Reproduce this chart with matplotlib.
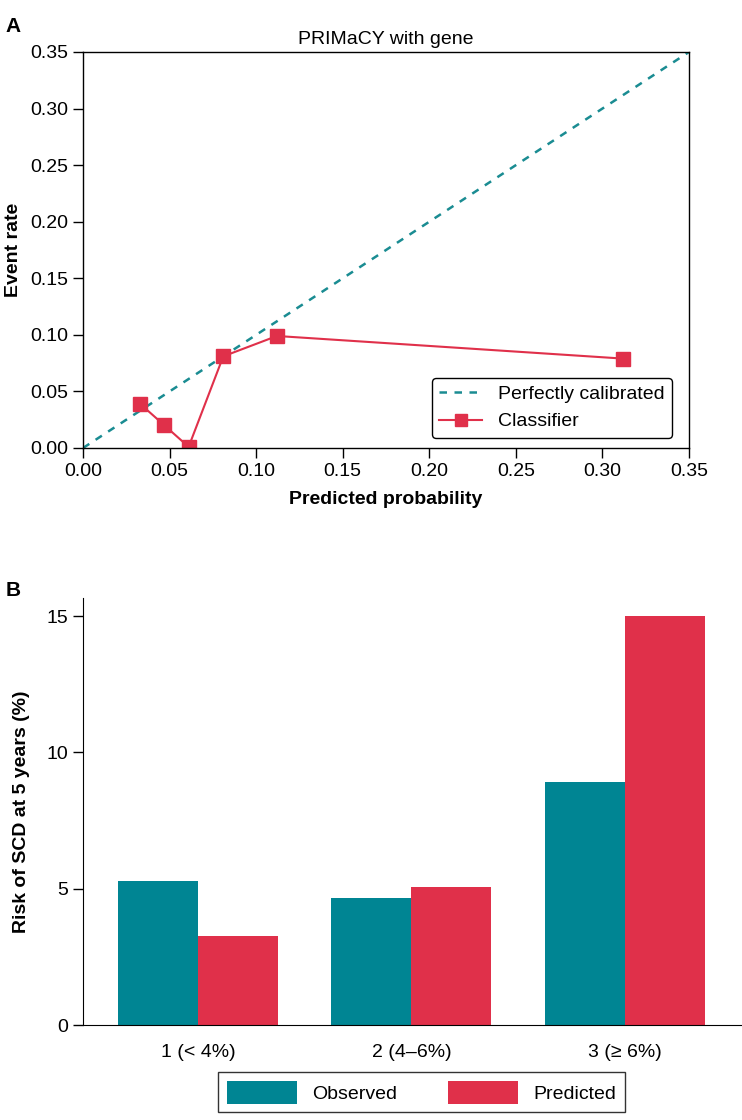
import numpy as np
import matplotlib
matplotlib.use('Agg')
import matplotlib.pyplot as plt

plt.rcParams['font.family'] = ['Liberation Sans', 'DejaVu Sans']

# panel A: calibration curve
pred_prob = [0.033, 0.047, 0.061, 0.081, 0.112, 0.312]
event_rate = [0.039, 0.020, 0.001, 0.081, 0.099, 0.079]
cal_ticks = [0.00, 0.05, 0.10, 0.15, 0.20, 0.25, 0.30, 0.35]

# panel B: risk groups
groups = ['1 (< 4%)', '2 (4\u20136%)', '3 (\u2265 6%)']
observed = [5.3, 4.65, 8.9]
predicted = [3.25, 5.05, 15.0]

TEAL = '#008593'
RED = '#E0304A'
FS = 14

fig = plt.figure(figsize=(7.42, 11.2), dpi=100)

# ---- A
axA = fig.add_axes([0.1119, 0.6, 0.8167, 0.3536])
axA.plot([0, 0.35], [0, 0.35], linestyle=(0, (3, 3)), color='#1a8c92',
         lw=1.8, label='Perfectly calibrated')
axA.plot(pred_prob, event_rate, color=RED, lw=1.5, marker='s',
         markersize=10, label='Classifier')
axA.set_xlim(0, 0.35)
axA.set_ylim(0, 0.35)
axA.set_xticks(cal_ticks)
axA.set_yticks(cal_ticks)
axA.set_xticklabels(['%.2f' % t for t in cal_ticks])
axA.set_yticklabels(['%.2f' % t for t in cal_ticks])
axA.tick_params(labelsize=FS, length=7, width=1)
axA.set_xlabel('Predicted probability', fontsize=FS, fontweight='bold', labelpad=8)
axA.set_ylabel('Event rate', fontsize=FS, fontweight='bold', labelpad=6)
axA.set_title('PRIMaCY with gene', fontsize=FS, pad=6)
for s in axA.spines.values():
    s.set_linewidth(1)
leg = axA.legend(loc='lower right', fontsize=FS, frameon=True, fancybox=True,
                 edgecolor='black', framealpha=1, handlelength=2.2,
                 markerscale=0.8, borderaxespad=0.4, bbox_to_anchor=(0.985, 0.005))
leg.get_frame().set_linewidth(1)
fig.text(0.008, 0.985, 'A', fontsize=15, fontweight='bold', va='top')

# ---- B
axB = fig.add_axes([0.1119, 0.0848, 0.888, 0.3812])
x = np.arange(len(groups))
w = 0.375
axB.bar(x - w / 2, observed, w, color=TEAL, label='Observed')
axB.bar(x + w / 2, predicted, w, color=RED, label='Predicted')
axB.set_xlim(-0.54, 2.55)
axB.set_ylim(0, 15.66)
axB.set_yticks([0, 5, 10, 15])
axB.set_xticks(x)
axB.set_xticklabels(groups)
axB.tick_params(axis='y', labelsize=FS, length=7, width=1)
axB.tick_params(axis='x', labelsize=FS, length=0, pad=14)
axB.spines['top'].set_visible(False)
axB.spines['right'].set_visible(False)
axB.set_ylabel('Risk of SCD at 5 years (%)', fontsize=FS, fontweight='bold', labelpad=12)
legB = axB.legend(loc='upper center', bbox_to_anchor=(0.514, -0.088), ncol=2,
                  fontsize=FS, frameon=True, fancybox=False, edgecolor='black',
                  handlelength=3.6, handleheight=1.4, columnspacing=2.6,
                  borderpad=0.45)
legB.get_frame().set_linewidth(1)
fig.text(0.008, 0.481, 'B', fontsize=15, fontweight='bold', va='top')

fig.savefig('out.png', dpi=100)
